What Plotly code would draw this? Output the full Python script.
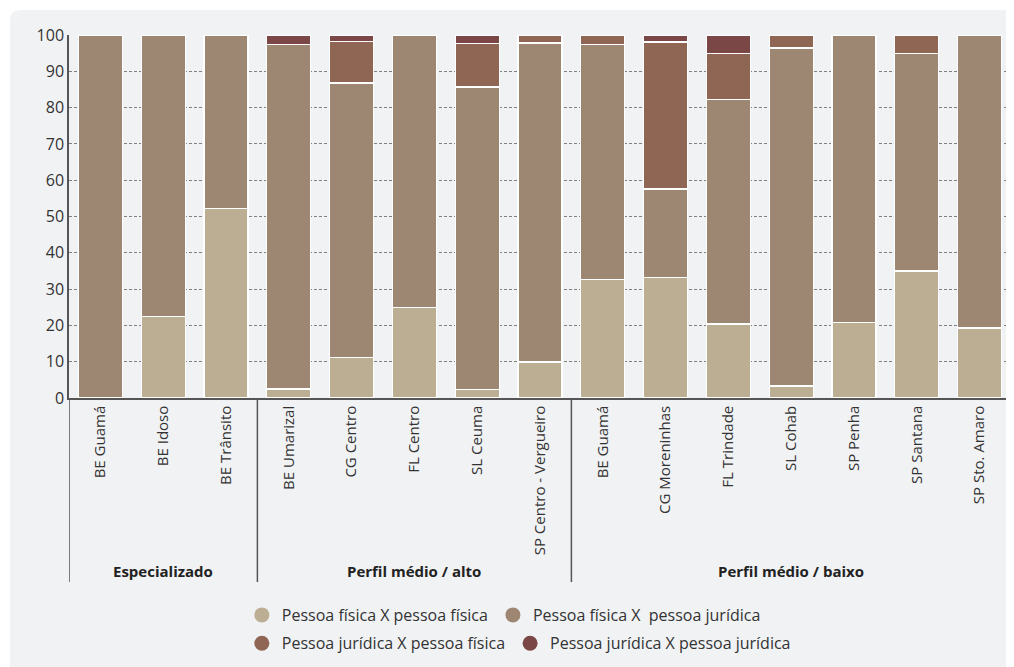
import plotly.graph_objects as go

# categorias (BE Guamá aparece duas vezes, por isso o eixo usa posicoes numericas)
categorias = ["BE Guamá", "BE Idoso", "BE Trânsito",
              "BE Umarizal", "CG Centro", "FL Centro", "SL Ceuma", "SP Centro - Vergueiro",
              "BE Guamá", "CG Moreninhas", "FL Trindade", "SL Cohab", "SP Penha", "SP Santana", "SP Sto. Amaro"]

grupos = ["Especializado", "Perfil médio / alto", "Perfil médio / baixo"]
tamanho_grupos = [3, 5, 7]

# percentuais por tipo de parte
pf_pf = [0, 22.4, 52.3, 2.5, 11.2, 25.0, 2.3, 9.9, 32.6, 33.1, 20.4, 3.3, 20.8, 35.0, 19.3]
pf_pj = [100, 77.6, 47.7, 94.8, 75.6, 75.0, 83.4, 87.9, 64.8, 24.5, 61.8, 93.1, 79.2, 59.9, 80.7]
pj_pf = [0, 0, 0, 0, 11.4, 0, 12.0, 2.2, 2.6, 40.5, 12.7, 3.6, 0, 5.1, 0]
pj_pj = [0, 0, 0, 2.7, 1.8, 0, 2.3, 0, 0, 1.9, 5.1, 0, 0, 0, 0]

series = [
    ("Pessoa física X pessoa física", pf_pf, "#bcae93", "legend"),
    ("Pessoa física X  pessoa jurídica", pf_pj, "#9e8772", "legend"),
    ("Pessoa jurídica X pessoa física", pj_pf, "#8f6654", "legend2"),
    ("Pessoa jurídica X pessoa jurídica", pj_pj, "#7a4646", "legend2"),
]

FONTE = "Open Sans"
posicoes = list(range(len(categorias)))

fig = go.Figure()

for nome, valores, cor, legenda in series:
    # some com zeros para nao desenhar contorno branco em barras vazias
    y = [v if v > 0 else None for v in valores]
    fig.add_trace(go.Bar(x=posicoes, y=y, name=nome, marker_color=cor,
                         marker_line=dict(color="white", width=1.2),
                         showlegend=False))
    # entrada de legenda com bolinha
    fig.add_trace(go.Scatter(x=[None], y=[None], mode="markers", name=nome,
                             marker=dict(color=cor, size=15, symbol="circle"),
                             legend=legenda))

# a pagina tem 8px de margem no body, entao a figura fica 8px menor
fig.update_layout(
    barmode="stack",
    bargap=0.3,
    width=1006,
    height=659,
    margin=dict(l=61, r=3, t=27, b=269),
    paper_bgcolor="white",
    plot_bgcolor="rgba(0,0,0,0)",
    font=dict(family=FONTE, size=15, color="#333333"),
    xaxis=dict(
        tickmode="array", tickvals=posicoes, ticktext=categorias,
        tickangle=-90, range=[-0.5, len(categorias) - 0.5],
        showline=True, linecolor="#555555", linewidth=1.5,
        showgrid=False, ticks="", tickfont=dict(size=15, color="#333333"),
    ),
    yaxis=dict(
        range=[0, 100], dtick=10, showline=True, linecolor="#555555", linewidth=1.5,
        showgrid=True, gridcolor="#808080", griddash="3px,2px", gridwidth=1,
        zeroline=False, ticks="", tickfont=dict(size=16, color="#333333"),
    ),
    legend=dict(orientation="h", x=0.1835, xanchor="left", y=-0.551, yanchor="top",
                traceorder="normal", bgcolor="rgba(0,0,0,0)",
                font=dict(size=16, color="#333333"), itemwidth=30, tracegroupgap=0),
    legend2=dict(orientation="h", x=0.1835, xanchor="left", y=-0.629, yanchor="top",
                 traceorder="normal", bgcolor="rgba(0,0,0,0)",
                 font=dict(size=16, color="#333333"), itemwidth=30, tracegroupgap=0),
)

# fundo cinza com canto arredondado
x0, y1, r = -0.0626, 1.069, 0.012
fig.add_shape(type="path", xref="paper", yref="paper", layer="below",
              path=f"M {x0},{y1 - 0.03} Q {x0},{y1} {x0 + r},{y1} L 1.1,{y1} L 1.1,-1 L {x0},-1 Z",
              fillcolor="#f1f2f4", line=dict(width=0))

# separadores de grupos e rotulos
inicio = -0.5
for grupo, n in zip(grupos, tamanho_grupos):
    fig.add_shape(type="line", xref="x", yref="paper", x0=inicio, x1=inicio, y0=0, y1=-0.507,
                  line=dict(color="#555555", width=1.5))
    fig.add_annotation(x=inicio + n / 2, y=-0.477, xref="x", yref="paper", text=f"<b>{grupo}</b>",
                       showarrow=False, font=dict(size=15, color="#222222"), yanchor="middle")
    inicio += n
fig.add_shape(type="line", xref="x", yref="paper", x0=inicio, x1=inicio, y0=0, y1=-0.507,
              line=dict(color="#555555", width=1.5))

fig.write_html("out.html")
